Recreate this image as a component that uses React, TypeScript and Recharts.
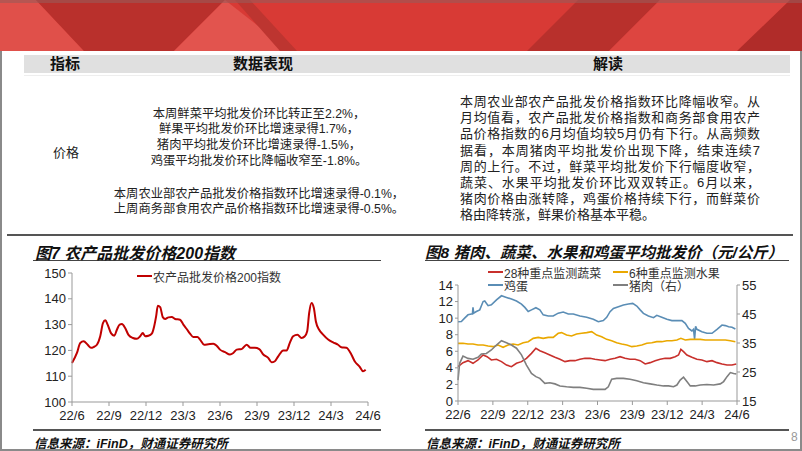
import React from "react";
import { LineChart, Line, XAxis, YAxis } from "recharts";

const monthTicks = [0, 3, 6, 9, 12, 15, 18, 21, 24];
const monthLabels = ["22/6", "22/9", "22/12", "23/3", "23/6", "23/9", "23/12", "24/3", "24/6"];

// 图7 农产品批发价格200指数 (t = 距22/6的月数)
const idxT = [0, 0.4, 0.67, 0.94, 1.27, 1.54, 1.75, 2.02, 2.29, 2.51, 2.7, 2.89, 3.16, 3.43, 3.64, 3.86, 4.05, 4.31, 4.58, 4.94, 5.26, 5.53, 5.74, 5.93, 6.2, 6.47, 6.66, 6.82, 6.96, 7.15, 7.36, 7.55, 7.82, 8.09, 8.36, 8.76, 9.03, 9.3, 9.57, 9.84, 10.17, 10.38, 10.71, 11.06, 11.46, 11.73, 12.0, 12.41, 12.81, 13.08, 13.35, 13.75, 14.16, 14.48, 14.83, 15.18, 15.51, 15.91, 16.18, 16.45, 16.72, 17.13, 17.4, 17.66, 17.93, 18.28, 18.61, 18.88, 19.07, 19.23, 19.42, 19.61, 19.77, 20.04, 20.36, 20.77, 21.17, 21.57, 21.84, 22.25, 22.65, 22.92, 23.33, 23.6, 23.81];
const idxV = [115.1, 119, 122.9, 123.5, 122.2, 121, 121.3, 122.2, 125.5, 130.6, 131.7, 130, 126.7, 125.7, 128, 130, 130.2, 128.7, 126, 124.8, 124.5, 125.5, 126.7, 125.5, 125.7, 126.5, 129.3, 133.2, 137.3, 136.8, 132.9, 132.2, 132.8, 132.9, 132.2, 131.9, 130, 128.3, 126.5, 125.2, 125.2, 124.2, 122.2, 122.4, 122.6, 121.8, 120.3, 119.3, 118.4, 119, 120.3, 120.5, 122.2, 121, 121, 120.5, 118.4, 117.1, 115.4, 115.8, 117.7, 120, 120, 122.9, 125.5, 126.1, 124.8, 125.5, 127.4, 134.5, 138.4, 136.4, 131.3, 128, 126.1, 124.2, 123.1, 122.2, 121.2, 121, 118.4, 115.8, 113.6, 111.9, 112.5];

// 图8 平均批发价
const vegT = [0, 0.43, 0.86, 1.29, 1.72, 2.16, 2.5, 2.87, 3.31, 3.74, 4.17, 4.6, 5.03, 5.46, 5.89, 6.32, 6.7, 7.04, 7.47, 7.9, 8.34, 8.77, 9.2, 9.63, 10.06, 10.49, 10.92, 11.35, 11.78, 12.22, 12.65, 13.08, 13.51, 13.94, 14.37, 14.8, 15.23, 15.67, 16.1, 16.53, 16.96, 17.39, 17.82, 18.25, 18.68, 18.97, 19.17, 19.4, 19.69, 20.12, 20.55, 20.98, 21.41, 21.85, 22.28, 22.71, 23.14, 23.57, 23.94];
const vegV = [4.14, 4.63, 4.87, 4.55, 4.95, 5.55, 5.35, 4.95, 5.03, 4.75, 4.34, 4.14, 4.55, 4.75, 5.15, 5.75, 6.36, 6.07, 5.83, 5.55, 5.27, 5.03, 4.75, 4.87, 4.87, 5.03, 5.15, 5.15, 5.03, 4.95, 4.87, 5.03, 5.15, 5.35, 5.15, 5.03, 5.03, 4.87, 4.47, 4.63, 4.87, 5.03, 5.15, 5.15, 5.35, 5.55, 6.23, 5.95, 5.55, 5.27, 5.03, 4.95, 4.75, 4.87, 4.63, 4.47, 4.34, 4.34, 4.47];

const fruitT = [0, 0.43, 0.86, 1.29, 1.72, 2.16, 2.59, 3.02, 3.45, 3.88, 4.31, 4.74, 5.17, 5.61, 6.04, 6.47, 6.9, 7.33, 7.76, 8.19, 8.62, 8.91, 9.34, 9.77, 10.2, 10.64, 11.07, 11.5, 11.93, 12.36, 12.79, 13.22, 13.65, 14.08, 14.52, 14.95, 15.38, 15.81, 16.24, 16.67, 17.1, 17.53, 17.97, 18.4, 18.83, 19.17, 19.55, 19.98, 20.41, 20.84, 21.27, 21.7, 22.13, 22.56, 23.0, 23.43, 23.86];
const fruitV = [6.96, 6.96, 6.88, 6.88, 6.76, 6.76, 6.64, 6.56, 6.76, 6.48, 6.76, 6.88, 6.76, 7.04, 7.16, 7.56, 7.68, 7.56, 7.68, 7.68, 8.17, 8.25, 7.96, 7.84, 8.08, 8.17, 8.25, 8.37, 7.96, 7.76, 7.44, 7.28, 7.04, 6.88, 6.76, 6.56, 6.64, 6.76, 6.96, 7.04, 7.16, 7.16, 7.28, 7.28, 7.36, 7.56, 7.36, 7.44, 7.44, 7.44, 7.36, 7.36, 7.36, 7.36, 7.36, 7.28, 7.16];

const eggT = [0, 0.29, 0.57, 0.86, 1.15, 1.24, 1.29, 1.35, 1.58, 1.87, 2.16, 2.3, 2.59, 2.87, 3.31, 3.74, 4.17, 4.6, 5.03, 5.46, 5.75, 6.04, 6.32, 6.7, 7.04, 7.33, 7.76, 8.19, 8.62, 9.05, 9.49, 9.92, 10.49, 11.07, 11.64, 12.07, 12.5, 12.79, 13.08, 13.37, 13.8, 14.23, 14.66, 15.03, 15.38, 15.67, 15.95, 16.38, 16.82, 17.1, 17.53, 17.97, 18.4, 18.83, 19.26, 19.55, 19.83, 20.12, 20.26, 20.35, 20.44, 20.55, 20.98, 21.41, 21.85, 22.28, 22.71, 22.99, 23.28, 23.57, 23.86];
const eggV = [9.57, 9.6, 10, 10.4, 10.5, 10.5, 11.3, 10.6, 10.8, 11, 12, 12.07, 11.5, 11.6, 12.2, 12.7, 12.5, 12.3, 12.07, 11.7, 11.3, 10.8, 11, 11.26, 11, 10.4, 10.26, 10.26, 10.6, 10.74, 10.5, 10.5, 10.26, 10.1, 9.86, 9.57, 9.7, 10.1, 10.78, 11.18, 11.38, 11.58, 11.7, 11.78, 11.46, 11, 10.58, 10.26, 10.06, 10.34, 10.1, 9.86, 9.7, 9.7, 9.7, 9.37, 8.77, 8.45, 8.65, 7.5, 9.0, 8.65, 8.37, 8.17, 8.17, 8.65, 9.17, 9.1, 8.97, 8.9, 8.69];

const porkT = [0, 0.14, 0.43, 0.86, 1.29, 1.72, 2.01, 2.44, 2.87, 3.31, 3.74, 4.17, 4.6, 5.03, 5.46, 5.89, 6.32, 6.7, 7.04, 7.47, 7.9, 8.34, 8.77, 9.34, 9.92, 10.49, 11.07, 11.64, 12.22, 12.65, 12.93, 13.22, 13.65, 14.23, 14.8, 15.38, 15.95, 16.53, 17.1, 17.68, 18.11, 18.54, 18.83, 19.11, 19.4, 19.69, 19.98, 20.41, 20.84, 21.41, 21.99, 22.56, 22.85, 23.14, 23.43, 23.71, 23.94];
const porkV = [22.2, 28, 30.5, 29.7, 29.4, 30.1, 31.2, 31.4, 32.6, 34.3, 35.8, 35.1, 34.3, 33.2, 30.9, 27.4, 24.5, 23.4, 22.8, 21.1, 21.3, 20.9, 20.2, 19.9, 19.7, 19.7, 19.4, 19, 19, 19, 19.9, 22.5, 22.8, 22.8, 22.5, 22, 21.3, 20.9, 20.5, 20.2, 20.2, 19.9, 20.5, 22.2, 23.2, 21.7, 20.2, 20.2, 20.5, 20.7, 20.5, 20.9, 21.7, 23.4, 24.8, 24.5, 24.3];

const toRows = (t: number[], v: number[]) => t.map((x, i) => ({ t: x, v: v[i] }));

const SANS = '"Liberation Sans", "Noto Sans CJK SC", sans-serif';
const fmtMonth = (v: number) => monthLabels[monthTicks.indexOf(v)] ?? "";
const tickStyle = { fontSize: 13, fill: "#222" };

function Banner() {
  return (
    <svg width={802} height={51} style={{ position: "absolute", left: 0, top: 0 }}>
      <rect x={0} y={0} width={802} height={51} fill="#d83a35" />
      <polygon points="0,0 36,0 84,51 0,51" fill="#e0504a" />
      <polygon points="36,0 225,0 174,51 84,51" fill="#b9302c" />
      <polygon points="225,0 290,51 174,51" fill="#e2544e" />
      <polygon points="235,0 250,0 297,51 280,51" fill="#bd3530" />
      <polygon points="578,0 660,0 609,51 527,51" fill="#b8302c" />
      <polygon points="660,0 790,0 740,51 609,51" fill="#dd4540" />
      <polygon points="790,0 802,0 802,51 737,51" fill="#b02c29" />
      <rect x={0} y={0} width={802} height={3} fill="#9a5a58" opacity={0.6} />
    </svg>
  );
}

function LegendItem({ x, y, color, label }: { x: number; y: number; color: string; label: string }) {
  return (
    <div style={{ position: "absolute", left: x, top: y - 8, height: 16, display: "flex", alignItems: "center", fontSize: 12, color: "#333", whiteSpace: "nowrap" }}>
      <span style={{ display: "inline-block", width: 15, height: 2, background: color, marginRight: 1 }} />
      {label}
    </div>
  );
}

export default function App() {
  const idxRows = toRows(idxT, idxV);
  const vegRows = toRows(vegT, vegV);
  const fruitRows = toRows(fruitT, fruitV);
  const eggRows = toRows(eggT, eggV);
  const porkRows = toRows(porkT, porkV);

  const bodyText = { position: "absolute" as const, fontSize: 12.3, color: "#222", whiteSpace: "nowrap" as const };
  const rightLines = [
    "本周农业部农产品批发价格指数环比降幅收窄。从",
    "月均值看，农产品批发价格指数和商务部食用农产",
    "品价格指数的6月均值均较5月仍有下行。从高频数",
    "据看，本周猪肉平均批发价出现下降，结束连续7",
    "周的上行。不过，鲜菜平均批发价下行幅度收窄，",
    "蔬菜、水果平均批发价环比双双转正。6月以来，",
    "猪肉价格由涨转降，鸡蛋价格持续下行，而鲜菜价",
    "格由降转涨，鲜果价格基本平稳。",
  ];
  const midLines = [
    { y: 113, s: "本周鲜菜平均批发价环比转正至2.2%，" },
    { y: 128, s: "鲜果平均批发价环比增速录得1.7%，" },
    { y: 144, s: "猪肉平均批发价环比增速录得-1.5%，" },
    { y: 160, s: "鸡蛋平均批发价环比降幅收窄至-1.8%。" },
    { y: 193, s: "本周农业部农产品批发价格指数环比增速录得-0.1%，" },
    { y: 208, s: "上周商务部食用农产品价格指数环比增速录得-0.5%。" },
  ];

  return (
    <div style={{ position: "absolute", left: 0, top: 0, width: 802, height: 451, background: "#fff", overflow: "hidden", fontFamily: SANS }}>
      <Banner />
      {/* page frame */}
      <div style={{ position: "absolute", left: 0, top: 51, width: 2, height: 400, background: "#8a8a8a" }} />
      <div style={{ position: "absolute", left: 800, top: 51, width: 2, height: 400, background: "#8a8a8a" }} />
      <div style={{ position: "absolute", left: 0, top: 449, width: 802, height: 2, background: "#8a8a8a" }} />

      {/* table header */}
      <div style={{ position: "absolute", left: 24, top: 55, width: 766, height: 18, background: "#e0e0e0" }} />
      <div style={{ position: "absolute", left: 24, top: 75, width: 766, height: 1, background: "#eeeeee" }} />
      {[
        { x: 65, s: "指标" },
        { x: 263, s: "数据表现" },
        { x: 608, s: "解读" },
      ].map((h) => (
        <div key={h.s} style={{ position: "absolute", left: h.x - 60, width: 120, top: 55, height: 18, lineHeight: "18px", textAlign: "center", fontWeight: 700, fontSize: 15, color: "#111" }}>
          {h.s}
        </div>
      ))}
      <div style={{ ...bodyText, left: 53, top: 142, fontSize: 13 }}>价格</div>
      {midLines.map((l) => (
        <div key={l.s} style={{ ...bodyText, left: 100, width: 318, textAlign: "center", top: l.y - 9 }}>
          {l.s}
        </div>
      ))}
      {rightLines.map((s, i) => (
        <div
          key={s}
          style={{
            position: "absolute",
            left: 460,
            width: i === rightLines.length - 1 ? undefined : 300,
            top: 91 + i * 16.2,
            fontSize: 13,
            color: "#222",
            whiteSpace: "nowrap",
            textAlign: "justify",
            textAlignLast: i === rightLines.length - 1 ? "left" : "justify",
          }}
        >
          {s}
        </div>
      ))}

      {/* chart section rules */}
      <div style={{ position: "absolute", left: 7, top: 234, width: 786, height: 2, background: "#555" }} />
      <div style={{ position: "absolute", left: 33, top: 260, width: 348, height: 1, background: "#444" }} />
      <div style={{ position: "absolute", left: 425, top: 260, width: 364, height: 1, background: "#444" }} />
      <div style={{ position: "absolute", left: 33, top: 429, width: 348, height: 2, background: "#555" }} />
      <div style={{ position: "absolute", left: 425, top: 429, width: 364, height: 2, background: "#555" }} />

      <div style={{ position: "absolute", left: 35, top: 240, fontSize: 16, fontWeight: 700, fontStyle: "italic", color: "#111", whiteSpace: "nowrap" }}>
        图7 农产品批发价格200指数
      </div>
      <div style={{ position: "absolute", left: 425, top: 240, fontSize: 15.5, fontWeight: 700, fontStyle: "italic", color: "#111", whiteSpace: "nowrap" }}>
        图8 猪肉、蔬菜、水果和鸡蛋平均批发价（元/公斤）
      </div>
      <div style={{ position: "absolute", left: 34, top: 433, fontSize: 12.5, fontWeight: 700, fontStyle: "italic", color: "#111", whiteSpace: "nowrap" }}>
        信息来源：iFinD，财通证券研究所
      </div>
      <div style={{ position: "absolute", left: 426, top: 433, fontSize: 12.5, fontWeight: 700, fontStyle: "italic", color: "#111", whiteSpace: "nowrap" }}>
        信息来源：iFinD，财通证券研究所
      </div>
      <div style={{ position: "absolute", left: 791, top: 430, fontSize: 12, color: "#999" }}>8</div>

      {/* 图7 */}
      <div style={{ position: "absolute", left: 20, top: 262 }}>
        <LineChart width={370} height={165} data={idxRows} margin={{ top: 11, right: 22, bottom: 0, left: 12 }}>
          <XAxis
            dataKey="t"
            type="number"
            domain={[0, 24]}
            ticks={monthTicks}
            tickFormatter={fmtMonth}
            interval={0}
            height={25}
            stroke="#999"
            tickSize={4}
            tickMargin={5}
            tick={tickStyle}
          />
          <YAxis
            domain={[100, 150]}
            ticks={[100, 110, 120, 130, 140, 150]}
            interval={0}
            width={40}
            stroke="#999"
            tickSize={4}
            tickMargin={2}
            tick={tickStyle}
          />
          <Line dataKey="v" type="monotone" stroke="#c00000" strokeWidth={2} dot={false} isAnimationActive={false} />
        </LineChart>
      </div>
      <LegendItem x={137} y={276} color="#c00000" label="农产品批发价格200指数" />

      {/* 图8 */}
      <div style={{ position: "absolute", left: 415, top: 262 }}>
        <LineChart width={350} height={165} margin={{ top: 23, right: 0, bottom: 0, left: 8 }}>
          <XAxis
            dataKey="t"
            type="number"
            domain={[0, 24]}
            ticks={monthTicks}
            tickFormatter={fmtMonth}
            interval={0}
            height={26}
            stroke="#999"
            tickSize={4}
            tickMargin={5}
            tick={tickStyle}
            allowDuplicatedCategory={false}
          />
          <YAxis
            yAxisId="left"
            domain={[0, 14]}
            ticks={[0, 2, 4, 6, 8, 10, 12, 14]}
            interval={0}
            width={35}
            stroke="#999"
            tickSize={3}
            tickMargin={2}
            tick={tickStyle}
          />
          <YAxis
            yAxisId="right"
            orientation="right"
            domain={[15, 55]}
            ticks={[15, 25, 35, 45, 55]}
            interval={0}
            width={28}
            stroke="#999"
            tickSize={3}
            tickMargin={2}
            tick={tickStyle}
          />
          <Line yAxisId="left" data={eggRows} dataKey="v" type="linear" stroke="#5a8db5" strokeWidth={1.6} dot={false} isAnimationActive={false} />
          <Line yAxisId="left" data={fruitRows} dataKey="v" type="linear" stroke="#eaa800" strokeWidth={1.6} dot={false} isAnimationActive={false} />
          <Line yAxisId="left" data={vegRows} dataKey="v" type="linear" stroke="#c8302c" strokeWidth={1.6} dot={false} isAnimationActive={false} />
          <Line yAxisId="right" data={porkRows} dataKey="v" type="linear" stroke="#7f7f7f" strokeWidth={1.6} dot={false} isAnimationActive={false} />
        </LineChart>
      </div>
      <LegendItem x={488} y={272} color="#c8302c" label="28种重点监测蔬菜" />
      <LegendItem x={613} y={272} color="#eaa800" label="6种重点监测水果" />
      <LegendItem x={488} y={285} color="#5a8db5" label="鸡蛋" />
      <LegendItem x={613} y={285} color="#7f7f7f" label="猪肉（右）" />
    </div>
  );
}
